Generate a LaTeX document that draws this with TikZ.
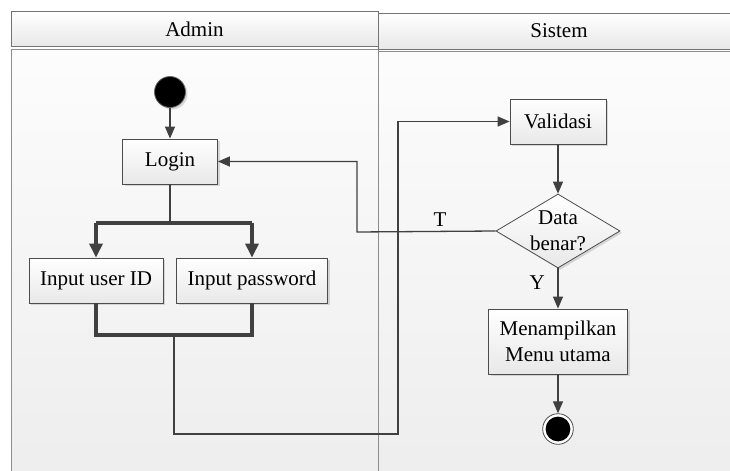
\documentclass[tikz,border=0pt]{standalone}
\usepackage{fontspec}
\setmainfont{Liberation Serif}
\usetikzlibrary{arrows.meta, shapes.geometric, shadows}

\tikzset{
  lanebody/.style={draw=black!45, top color=black!1, bottom color=black!7},
  lanehead/.style={rectangle, draw=black!55, top color=white, bottom color=black!9, minimum height=17.5pt, inner sep=0pt},
  act/.style={rectangle, draw=black!70, top color=white, bottom color=black!9, inner sep=0pt, minimum height=22.5pt, align=center,
    drop shadow={shadow xshift=1pt, shadow yshift=-1pt, fill=black!40, opacity=0.35}},
  decision/.style={diamond, draw=black!70, top color=white, bottom color=black!9, inner sep=0pt, minimum width=62pt, minimum height=37pt,
    drop shadow={shadow xshift=1pt, shadow yshift=-1pt, fill=black!40, opacity=0.35}},
  start/.style={circle, draw=black!60, fill=black, inner sep=0pt, minimum size=15.5pt,
    drop shadow={shadow xshift=1pt, shadow yshift=-1pt, fill=black!40, opacity=0.35}},
  stop/.style={circle, draw=black!70, fill=white, inner sep=0pt, minimum size=15.3pt,
    path picture={\fill[black] (path picture bounding box.center) circle (6.2pt);}},
  line/.style={draw=black!75, line width=0.65pt},
  flow/.style={line, -{Triangle[length=6pt,width=5pt]}},
  bar/.style={draw=black!75, line width=1.6pt},
  thickflow/.style={bar, -{Triangle[length=7pt,width=6.5pt]}}
}

\begin{document}
\begin{tikzpicture}[x=0.5pt,y=-0.5pt,font=\fontsize{10.5}{13}\selectfont]
\clip (0,0) rectangle (730,471);
\fill[white] (0,0) rectangle (730,471);
\draw[lanebody] (11,49) rectangle (378,480);
\draw[lanebody] (378,51) rectangle (740,480);
\node[lanehead, minimum width=183.5pt] (hadmin) at (194.5,29) {Admin};
\node[lanehead, minimum width=181pt, minimum height=18pt] (hsistem) at (559,31) {Sistem};

\node[start] (mulai) at (170,92) {};
\node[act, minimum width=47.5pt] (login) at (170,161.5) {Login};
\node[act, minimum width=67pt] (userid) at (96,280.5) {Input user ID};
\node[act, minimum width=75.5pt] (password) at (252,280.5) {Input password};
\node[act, minimum width=48pt] (validasi) at (558,121.5) {Validasi};
\node[decision, label={[align=center]center:Data\\benar?}] (cek) at (558,231) {};
\node[act, minimum width=69.5pt, minimum height=32.5pt] (menu) at (558,341.5) {Menampilkan\\Menu utama};
\node[stop] (selesai) at (558,429) {};

\coordinate (forkL) at (96,223);
\coordinate (forkR) at (252,223);
\coordinate (joinL) at (96,335);
\coordinate (joinR) at (252,335);
\coordinate (joinM) at (174,335);
\coordinate (belok) at (398,434);
\coordinate (balik) at (357,232);

\draw[flow] (mulai) -- (login);
\draw[line] (login) -- (login |- forkL);
\draw[bar] (forkL) -- (forkR);
\draw[thickflow] (forkL) -- (userid);
\draw[thickflow] (forkR) -- (password);
\draw[bar] (userid.south) -- (joinL) -- (joinR) -- (password.south);
\draw[flow] (joinM) |- (belok) |- (validasi);
\draw[flow] (validasi) -- (cek);
\draw[flow] (cek.west) -- node[pos=0.4, above=-1pt]{T} (balik) |- (login);
\draw[flow] (cek) -- node[pos=0.35, left=3pt]{Y} (menu);
\draw[flow] (menu) -- (selesai);

\end{tikzpicture}
\end{document}
